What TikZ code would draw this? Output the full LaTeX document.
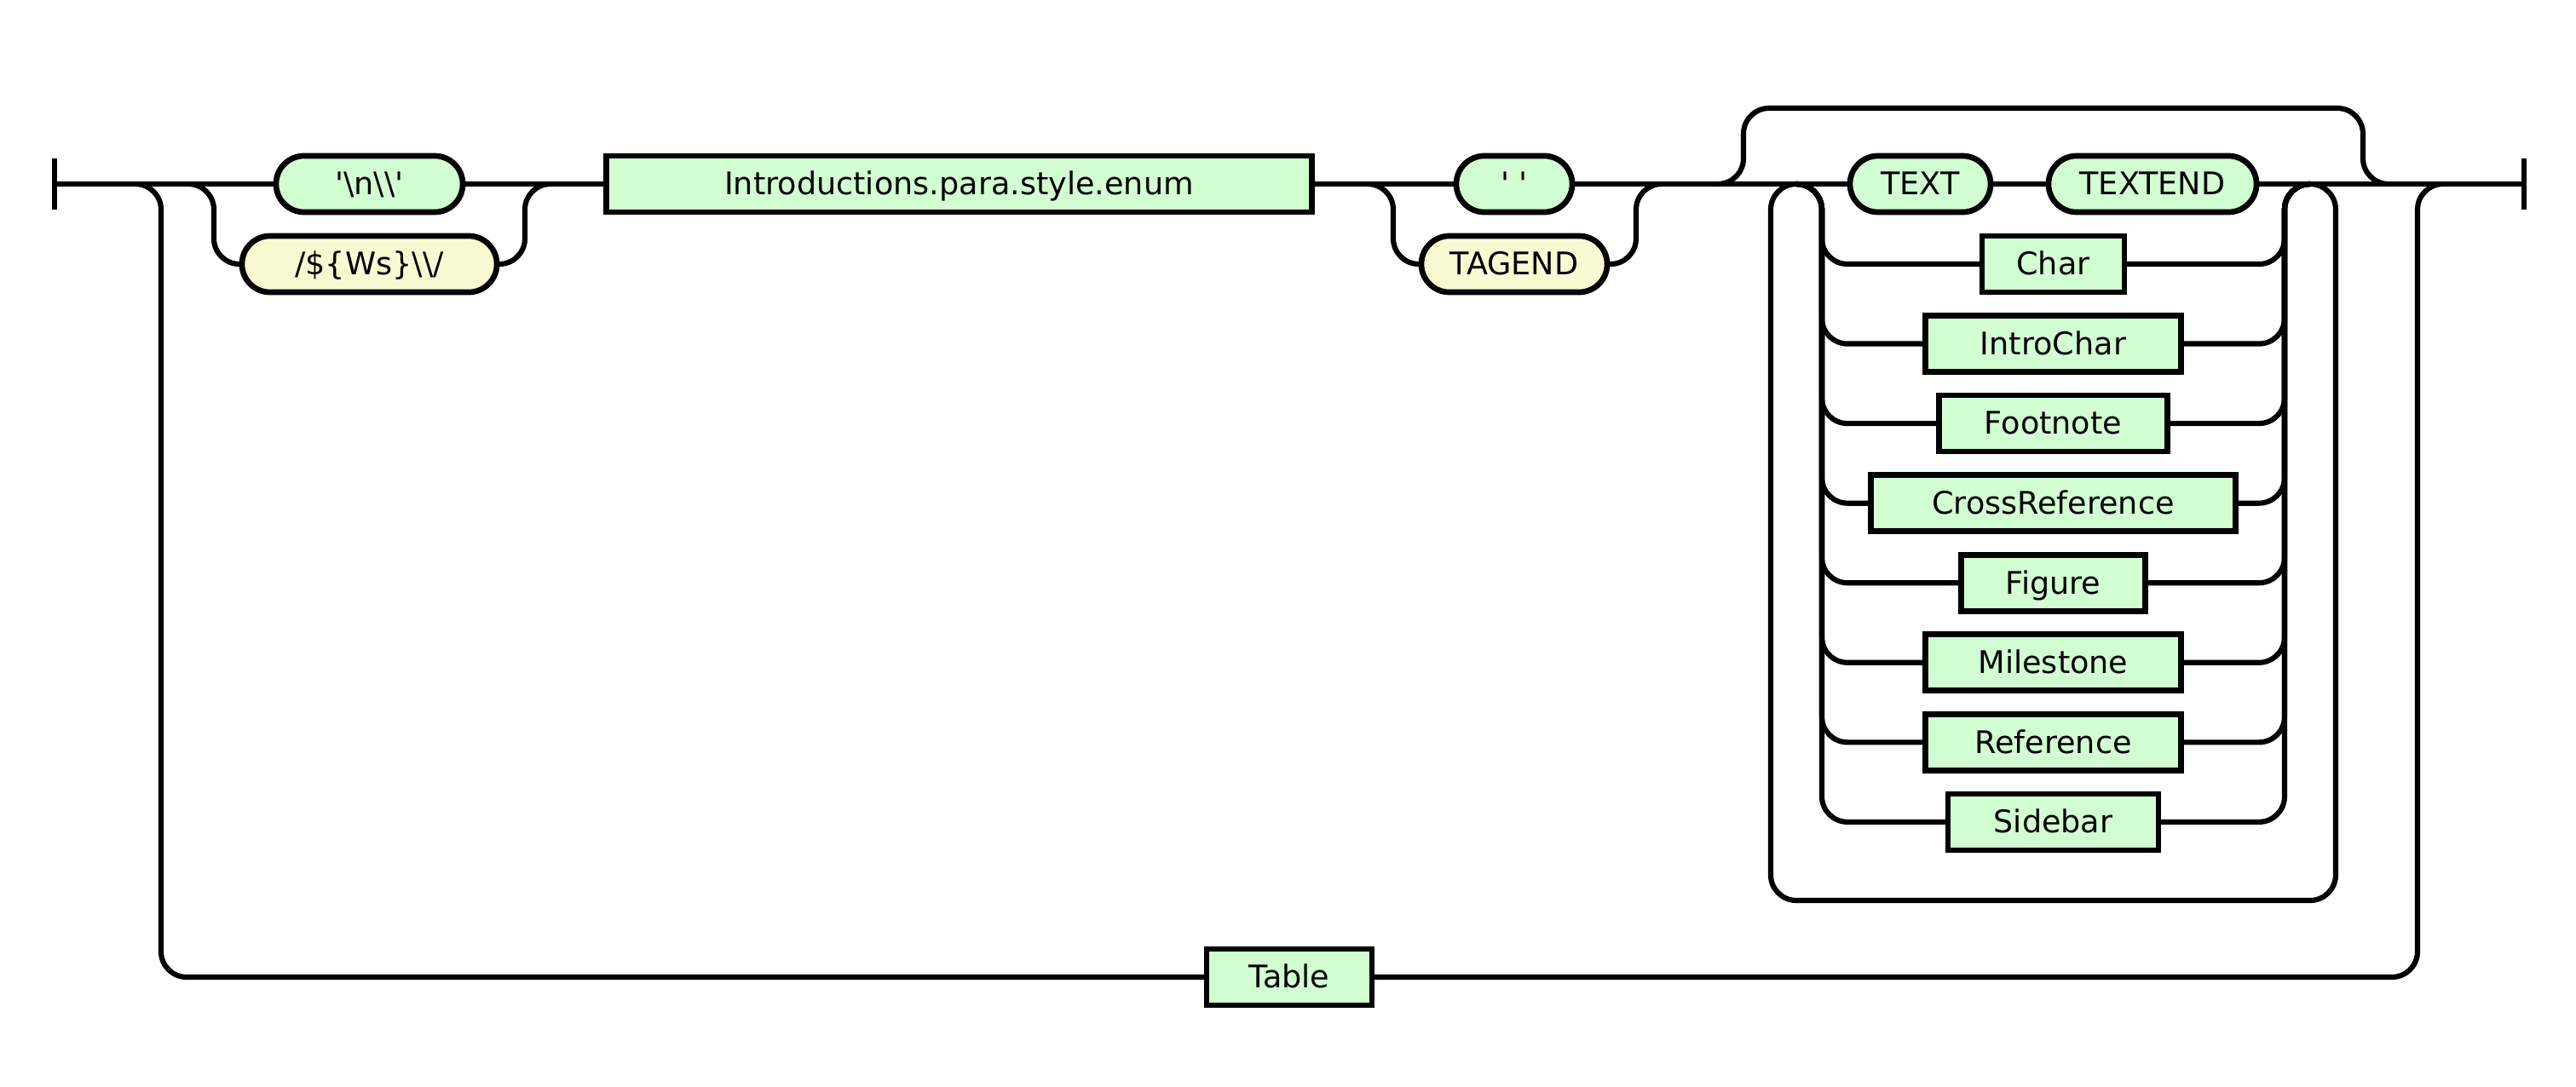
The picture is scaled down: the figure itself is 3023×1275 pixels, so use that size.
\documentclass[tikz,border=0pt]{standalone}
\usepackage{fontspec}
\setmainfont{DejaVu Sans}
\usetikzlibrary{positioning}
\definecolor{ruleGreen}{HTML}{D2FFD2}
\definecolor{ruleYellow}{HTML}{FAFAD2}

\begin{document}
\begin{tikzpicture}[x=0.01cm, y=-0.01cm, node distance=0.275cm,
  font=\fontsize{10.4pt}{12pt}\selectfont,
  rail/.style={line width=1.75pt, rounded corners=0.3cm},
  ruleBox/.style={draw, line width=1.9pt, fill=ruleGreen, minimum height=0.66cm,
    inner sep=0pt, outer sep=0pt, text height=0.93em, text depth=0.2em},
  tokBox/.style={ruleBox, rounded corners=0.33cm},
  litBox/.style={tokBox, fill=ruleYellow}]
  \useasboundingbox (0,0) rectangle (3023,1275);
  \coordinate (start) at (64,216);
  \coordinate (end) at (2962,216);
  \coordinate (tableOut) at (159,216);
  \coordinate (splitA) at (221,216);
  \coordinate (joinA) at (646,216);
  \coordinate (splitB) at (1605,216);
  \coordinate (joinB) at (1950,216);
  \coordinate (bypassOut) at (2014,216);
  \coordinate (splitC) at (2108,216);
  \coordinate (joinC) at (2711,216);
  \coordinate (bypassIn) at (2803,216);
  \coordinate (tableIn) at (2867,216);
  % main line
  \node[tokBox, minimum width=2.19cm] (newline) at (433.5,216)
    {\textquotesingle\textbackslash n\textbackslash\textbackslash\textquotesingle};
  \node[litBox, minimum width=2.99cm] (wsTok) at (433.5,310)
    {/\$\{Ws\}\textbackslash\textbackslash/};
  \node[ruleBox, minimum width=8.27cm] (introEnum) at (1125.5,216)
    {Introductions.para.style.enum};
  \node[tokBox, minimum width=1.36cm] (spaceTok) at (1777,216)
    {\textquotesingle\ \textquotesingle};
  \node[litBox, minimum width=2.18cm] (tagEnd) at (1777,310) {TAGEND};
  \node[tokBox, minimum width=1.65cm] (textTok) at (2253.5,216) {TEXT};
  \node[tokBox, minimum width=2.44cm] (textEnd) at (2526,216) {TEXTEND};
  % alternatives
  \node[ruleBox, minimum width=1.67cm] (charRef) at (2409.5,310) {Char};
  \node[ruleBox, minimum width=3.00cm, below = of charRef] (introChar) {IntroChar};
  \node[ruleBox, minimum width=2.68cm, below = of introChar] (footnote) {Footnote};
  \node[ruleBox, minimum width=4.28cm, below = of footnote] (crossReference) {CrossReference};
  \node[ruleBox, minimum width=2.16cm, below = of crossReference] (figure) {Figure};
  \node[ruleBox, minimum width=3.00cm, below = of figure] (milestone) {Milestone};
  \node[ruleBox, minimum width=3.00cm, below = of milestone] (reference) {Reference};
  \node[ruleBox, minimum width=2.47cm, below = of reference] (sidebar) {Sidebar};
  \node[ruleBox, minimum width=1.94cm] (table) at (1513,1147) {Table};
  % rails
  \draw[line width=1.75pt] (start) ++(0,-30) -- ++(0,60);
  \draw[line width=1.75pt] (end) ++(0,-30) -- ++(0,60);
  \draw[rail] (start) -- (newline.west) (newline.east) -- (introEnum.west)
    (introEnum.east) -- (spaceTok.west) (spaceTok.east) -- (textTok.west)
    (textTok.east) -- (textEnd.west) (textEnd.east) -- (end);
  \draw[rail] (splitA) -- ++(30,0) |- (wsTok.west) (wsTok.east) -| ([xshift=-0.3cm]joinA) -- (joinA);
  \draw[rail] (splitB) -- ++(30,0) |- (tagEnd.west) (tagEnd.east) -| ([xshift=-0.3cm]joinB) -- (joinB);
  \draw[rail] (bypassOut) -- ++(32,0) -- ++(0,-89) -| ([xshift=-0.3cm]bypassIn) -- (bypassIn);
  \draw[rail] (joinC) -- ++(30,0) -- ++(0,841) -| ([xshift=-0.3cm]splitC) -- (splitC);
  \draw[rail] (splitC) -- ++(30,0) |- (charRef.west) (charRef.east) -| ([xshift=-0.3cm]joinC) -- (joinC);
  \draw[rail] (splitC) -- ++(30,0) |- (introChar.west) (introChar.east) -| ([xshift=-0.3cm]joinC) -- (joinC);
  \draw[rail] (splitC) -- ++(30,0) |- (footnote.west) (footnote.east) -| ([xshift=-0.3cm]joinC) -- (joinC);
  \draw[rail] (splitC) -- ++(30,0) |- (crossReference.west) (crossReference.east) -| ([xshift=-0.3cm]joinC) -- (joinC);
  \draw[rail] (splitC) -- ++(30,0) |- (figure.west) (figure.east) -| ([xshift=-0.3cm]joinC) -- (joinC);
  \draw[rail] (splitC) -- ++(30,0) |- (milestone.west) (milestone.east) -| ([xshift=-0.3cm]joinC) -- (joinC);
  \draw[rail] (splitC) -- ++(30,0) |- (reference.west) (reference.east) -| ([xshift=-0.3cm]joinC) -- (joinC);
  \draw[rail] (splitC) -- ++(30,0) |- (sidebar.west) (sidebar.east) -| ([xshift=-0.3cm]joinC) -- (joinC);
  \draw[rail] (tableOut) -- ++(30,0) |- (table.west) (table.east) -| ([xshift=-0.3cm]tableIn) -- (tableIn);
\end{tikzpicture}
\end{document}
